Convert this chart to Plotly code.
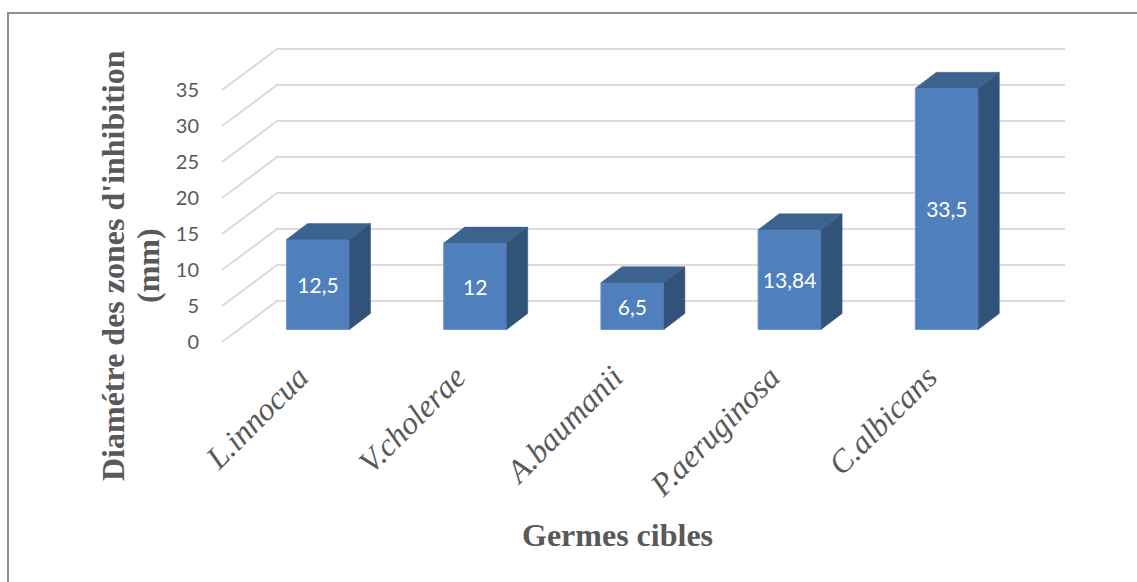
import plotly.graph_objects as go

categories = ["L.innocua", "V.cholerae", "A.baumanii", "P.aeruginosa", "C.albicans"]
values = [12.5, 12, 6.5, 13.84, 33.5]
value_labels = ["12,5", "12", "6,5", "13,84", "33,5"]
y_ticks = [0, 5, 10, 15, 20, 25, 30, 35]

W, H = 1137, 582
L, R, T, B = 215, 1072, 40, 350      # plot-area pixel box
PX_X = 157.2      # pixels per category
PX_Y = 7.2        # pixels per value unit
X0 = 318          # pixel of category 0
Y0 = 342          # pixel of value 0 on the front plane

FLOOR_DX, FLOOR_DY = 55 / PX_X, 41 / PX_Y       # floor depth
BAR_BASE = 12.5 / PX_Y                          # bar's front edge above the floor's front edge
BAR_W = 63 / PX_X
BAR_DX, BAR_DY = 21 / PX_X, 16 / PX_Y           # bar depth
WALL_LEFT = (222 - X0) / PX_X
WALL_RIGHT = (1065 - X0) / PX_X
LABEL_SHIFT = 19 / PX_X

GRID = "#dbdbdb"
FRONT, TOP, SIDE = "#4f7fbc", "#3c628f", "#325379"
TEXT = "#595959"
FRAME = "#8f8f8f"


def px_x(p):
    return (p - L) / (R - L)


def px_y(p):
    return (B - p) / (B - T)


fig = go.Figure()

gx, gy = [], []
for t in y_ticks:
    gx += [WALL_LEFT, WALL_LEFT + FLOOR_DX, WALL_RIGHT, None]
    gy += [t, t + FLOOR_DY, t + FLOOR_DY, None]
fig.add_trace(go.Scatter(x=gx, y=gy, mode="lines", line=dict(color=GRID, width=2),
                         hoverinfo="skip", showlegend=False, zorder=0))

fig.add_trace(go.Bar(x=list(range(len(values))), y=values, base=BAR_BASE, width=BAR_W,
                     marker=dict(color=FRONT, line=dict(color="#6f98cc", width=1)),
                     text=value_labels, textposition="inside", insidetextanchor="middle",
                     textangle=0, constraintext="none",
                     textfont=dict(family="Lato", size=21, color="white"),
                     showlegend=False, zorder=1))

for i, v in enumerate(values):
    xl, xr = i - BAR_W / 2, i + BAR_W / 2
    yb, yt = BAR_BASE, BAR_BASE + v
    fig.add_trace(go.Scatter(
        x=[xl, xl + BAR_DX, xr + BAR_DX, xr, xl],
        y=[yt, yt + BAR_DY, yt + BAR_DY, yt, yt],
        mode="lines", fill="toself", fillcolor=TOP, line=dict(color=TOP, width=0.5),
        hoverinfo="skip", showlegend=False, zorder=2))
    fig.add_trace(go.Scatter(
        x=[xr, xr + BAR_DX, xr + BAR_DX, xr, xr],
        y=[yt, yt + BAR_DY, yb + BAR_DY, yb, yt],
        mode="lines", fill="toself", fillcolor=SIDE, line=dict(color=SIDE, width=0.5),
        hoverinfo="skip", showlegend=False, zorder=2))

fig.update_layout(
    width=W, height=H, autosize=False,
    margin=dict(l=L, r=W - R, t=T, b=H - B, pad=0),
    paper_bgcolor="white", plot_bgcolor="white",
    showlegend=False,
    xaxis=dict(range=[(L - X0) / PX_X, (R - X0) / PX_X],
               tickmode="array",
               tickvals=[i - LABEL_SHIFT for i in range(len(categories))],
               ticktext=[f"<i>{c}</i>" for c in categories],
               tickangle=-45, showgrid=False, zeroline=False, showline=False, ticks="",
               ticklabelstandoff=1,
               tickfont=dict(family="Liberation Serif", size=32, color=TEXT)),
    yaxis=dict(range=[(Y0 - B) / PX_Y, (Y0 - T) / PX_Y],
               tickmode="array", tickvals=y_ticks, ticktext=[str(t) for t in y_ticks],
               showgrid=False, zeroline=False, showline=False, ticks="",
               ticklabelstandoff=15,
               tickfont=dict(family="Lato", size=20, color=TEXT)),
    shapes=[
        dict(type="line", xref="paper", yref="paper", x0=px_x(7), x1=px_x(W), y0=px_y(13), y1=px_y(13),
             line=dict(color=FRAME, width=2)),
        dict(type="line", xref="paper", yref="paper", x0=px_x(8), x1=px_x(8), y0=px_y(13), y1=px_y(H),
             line=dict(color=FRAME, width=2)),
    ],
    annotations=[
        dict(text="<b>Diamétre des zones d'inhibition</b>", textangle=-90,
             xref="paper", yref="paper", x=px_x(113), y=px_y(266),
             xanchor="center", yanchor="middle", showarrow=False,
             font=dict(family="Liberation Serif", size=32, color=TEXT)),
        dict(text="<b>(mm)</b>", textangle=-90,
             xref="paper", yref="paper", x=px_x(148), y=px_y(266),
             xanchor="center", yanchor="middle", showarrow=False,
             font=dict(family="Liberation Serif", size=32, color=TEXT)),
        dict(text="<b>Germes cibles</b>", xref="paper", yref="paper",
             x=px_x(617), y=px_y(535),
             xanchor="center", yanchor="middle", showarrow=False,
             font=dict(family="Liberation Serif", size=32, color=TEXT)),
    ],
)

fig.write_html("out.html", config=dict(displayModeBar=False),
               post_script="document.body.style.margin='0';")
